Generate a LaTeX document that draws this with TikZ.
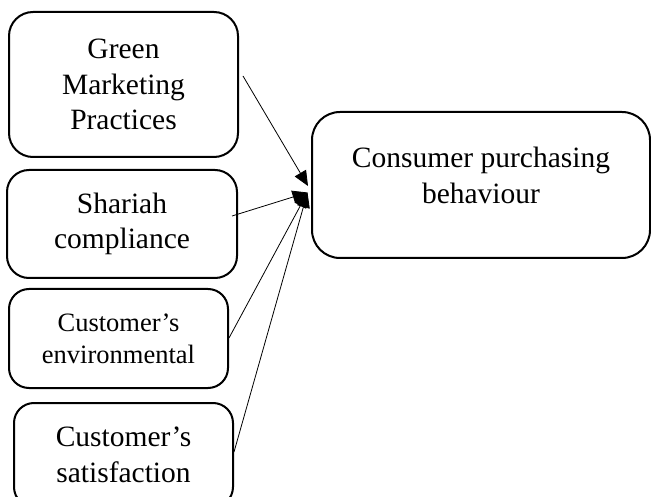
\documentclass[tikz,border=0pt]{standalone}
\usepackage{fontspec}
\setmainfont{Liberation Serif}
\usetikzlibrary{arrows.meta}
\begin{document}
\begin{tikzpicture}[x=1pt,y=-1pt,
  box/.style={draw=black, line width=2pt, rectangle, rounded corners=24pt, inner sep=0pt, align=center},
  bigtxt/.style={font=\fontsize{29.5}{35.5}\selectfont},
  smalltxt/.style={font=\fontsize{26.5}{32}\selectfont},
  arr/.style={line width=0.8pt, -{Triangle[length=15pt,width=13pt]}}]
\useasboundingbox (0,0) rectangle (651,497);
\clip (0,0) rectangle (651,497);
\node[box, bigtxt, minimum width=229pt, minimum height=145pt] (g) at (123.5,84.5) {Green\\Marketing\\Practices};
\node[box, bigtxt, rounded corners=22pt, minimum width=230pt, minimum height=108pt] (s) at (122,224) {Shariah\\compliance};
\node[box, smalltxt, rounded corners=20pt, minimum width=219pt, minimum height=99pt] (e) at (118.5,338.5) {Customer’s\\environmental};
\node[box, bigtxt, rounded corners=20pt, minimum width=219pt, minimum height=104pt] (f) at (123.5,455) {Customer’s\\satisfaction};
\node[box, rounded corners=28pt, minimum width=338pt, minimum height=146pt] (c) at (481,185) {};
\node[bigtxt, align=center, inner sep=0pt] (ct) at (481,175.5) {Consumer purchasing\\behaviour};
\coordinate (t1) at (308,186);
\coordinate (t2) at (307.5,192.5);
\draw[arr] ([xshift=4pt,yshift=8.5pt]g.east) -- (t1);
\draw[arr] ([xshift=-6pt,yshift=8pt]s.east) -- (t2);
\draw[arr] ([yshift=0.5pt]e.east) -- (t2);
\draw[arr] ([yshift=3pt]f.east) -- (t2);
\end{tikzpicture}
\end{document}
